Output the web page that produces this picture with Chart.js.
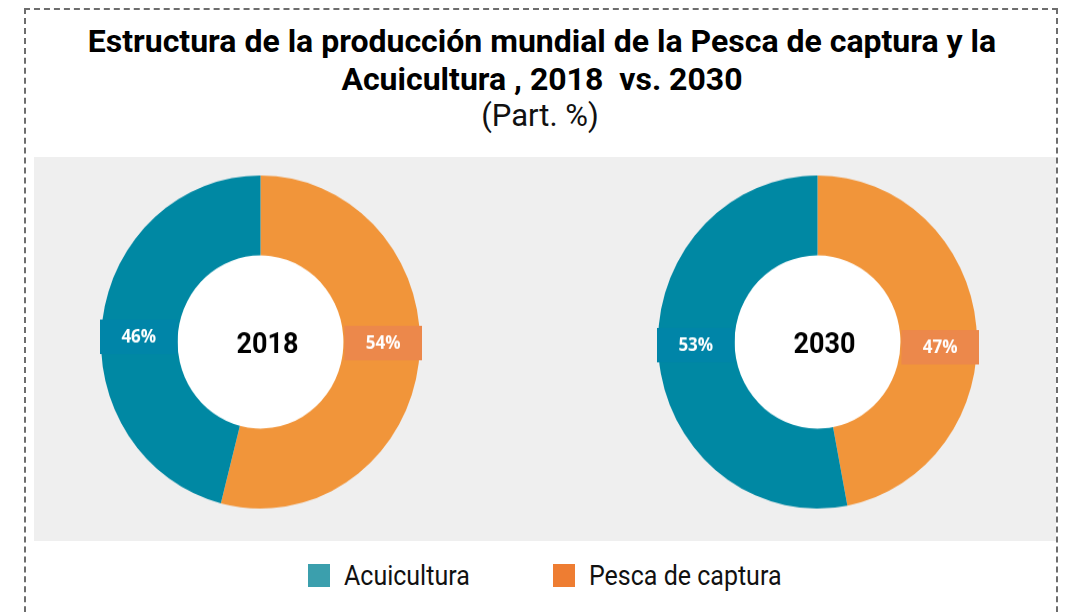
<!DOCTYPE html>
<html lang="es">
<head>
<meta charset="utf-8">
<title>Pesca de captura y Acuicultura</title>
<script src="https://cdn.jsdelivr.net/npm/chart.js@4.4.1/dist/chart.umd.min.js"></script>
<style>
  html, body { margin: 0; padding: 0; background: #fff; }
  body { width: 1066px; height: 612px; position: relative; overflow: hidden; font-family: Roboto, "Noto Sans", sans-serif; }
  .frame { position: absolute; left: 24px; top: 8px; width: 1030px; height: 700px; border: 2px dashed #6d6d6d; }
  .title { position: absolute; left: 0; top: 22px; width: 1084px; text-align: center; font-weight: bold; font-size: 32px; line-height: 38px; color: #000; }
  .subtitle { position: absolute; left: 0; top: 98px; width: 1080px; text-align: center; font-size: 31px; line-height: 36px; color: #111; }
  .panel { position: absolute; left: 34px; top: 157px; width: 1022px; height: 384px; background: #efefef; }
  .donut { position: absolute; }
  #legend { position: absolute; top: 0; left: 0; width: 1066px; }
  #legend .box { position: absolute; top: 564px; width: 22px; height: 23px; }
  #legend .txt { position: absolute; top: 559px; font-size: 25px; line-height: 30px; color: #111; white-space: nowrap;
                 transform: scaleY(1.12); transform-origin: 0 0; }
</style>
</head>
<body>
<div class="frame"></div>
<div class="title">Estructura de la producción mundial de la Pesca de captura y la<br>Acuicultura , 2018&nbsp; vs. 2030</div>
<div class="subtitle">(Part. %)</div>
<div class="panel"></div>
<!-- the donuts are drawn on a square canvas and shown slightly taller -->
<canvas id="chart2018" class="donut" width="339" height="339" style="left:91px;top:165px;width:339px;height:354px"></canvas>
<canvas id="chart2030" class="donut" width="339" height="339" style="left:648px;top:165px;width:339px;height:354px"></canvas>
<div id="legend"></div>

<script>
const categories = ['Acuicultura', 'Pesca de captura'];
const years = ['2018', '2030'];
const share2018 = [46, 54];
const share2030 = [53, 47];

const ringColors = ['#0088a3', '#f1953a'];
const tagColors = ['#0085a8', '#ec884b'];
const legendColors = ['#3b9fad', '#ee7d32'];

// white hole behind the slices, value tags across the ring on the side
// where each slice lies, and the year in the middle
const donutLabels = {
  id: 'donutLabels',
  beforeDatasetsDraw(chart) {
    const arc = chart.getDatasetMeta(0).data[0];
    if (!arc) return;
    const ctx = chart.ctx;
    ctx.save();
    ctx.fillStyle = '#fff';
    ctx.beginPath();
    ctx.arc(arc.x, arc.y, arc.innerRadius + 1, 0, Math.PI * 2);
    ctx.fill();
    ctx.restore();
  },
  afterDraw(chart, args, opts) {
    const ctx = chart.ctx;
    const ds = chart.data.datasets[0];
    const meta = chart.getDatasetMeta(0);
    ctx.save();
    ctx.textAlign = 'center';
    ctx.textBaseline = 'middle';
    meta.data.forEach((arc, i) => {
      const { x, y, innerRadius, outerRadius, startAngle, endAngle } = arc.getProps(['x', 'y', 'innerRadius', 'outerRadius', 'startAngle', 'endAngle'], true);
      const mid = (startAngle + endAngle) / 2;
      const left = Math.cos(mid) < 0;
      const w = outerRadius - innerRadius + 1;
      const h = 33;
      const bx = left ? x - outerRadius - 1 : x + innerRadius + 1;
      const by = y - h / 2 + (left ? opts.shift[0] : opts.shift[1]);
      ctx.fillStyle = ds.tagColors[i];
      ctx.fillRect(bx, by, w, h);
      ctx.fillStyle = '#fff';
      ctx.font = 'bold 17px "Open Sans", sans-serif';
      ctx.fillText(ds.data[i] + '%', bx + w / 2, by + h / 2 + 1);
    });
    const c = meta.data[0];
    ctx.fillStyle = '#000';
    ctx.font = 'bold 27px Roboto, sans-serif';
    ctx.fillText(opts.year, c.x + 7, c.y + 4);
    ctx.restore();
  }
};

function makeDonut(id, year, shares, shift) {
  // Pesca runs clockwise from the top, Acuicultura closes the ring
  const order = [1, 0];
  new Chart(document.getElementById(id), {
    type: 'doughnut',
    data: {
      labels: order.map(i => categories[i]),
      datasets: [{
        data: order.map(i => shares[i]),
        backgroundColor: order.map(i => ringColors[i]),
        tagColors: order.map(i => tagColors[i]),
        borderWidth: 0
      }]
    },
    options: {
      responsive: false,
      animation: false,
      cutout: '52%',
      layout: { padding: 10 },
      plugins: {
        legend: { display: false },
        tooltip: { enabled: false },
        donutLabels: { year: year, shift: shift }
      }
    },
    plugins: [donutLabels]
  });
}

makeDonut('chart2018', years[0], share2018, [-5, 1]);
makeDonut('chart2030', years[1], share2030, [3, 5]);

const legend = document.getElementById('legend');
const legendX = [308, 553];
categories.forEach((name, i) => {
  const box = document.createElement('div');
  box.className = 'box';
  box.style.left = legendX[i] + 'px';
  box.style.background = legendColors[i];
  const txt = document.createElement('div');
  txt.className = 'txt';
  txt.style.left = (legendX[i] + 36) + 'px';
  txt.textContent = name;
  legend.appendChild(box);
  legend.appendChild(txt);
});
</script>
</body>
</html>
